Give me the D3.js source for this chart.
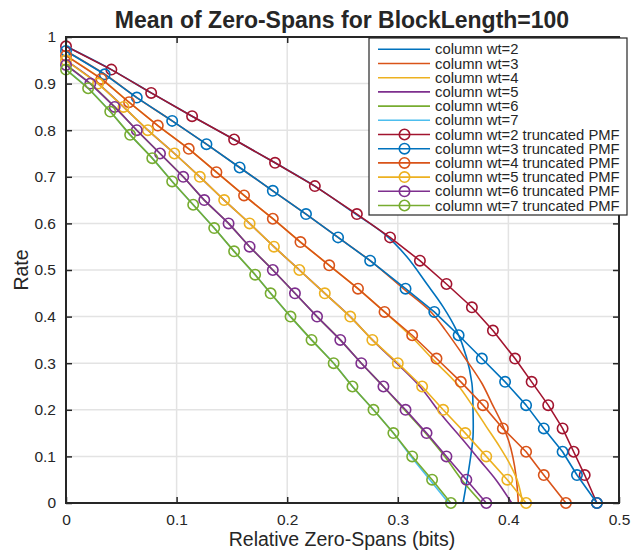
<!DOCTYPE html>
<html>
<head>
<meta charset="utf-8">
<script src="https://cdn.jsdelivr.net/npm/d3@7"></script>
<style>
  body { margin: 0; background: #fff; }
  svg { display: block; }
  text { font-family: "Liberation Sans", Arial, Helvetica, sans-serif; fill: #262626; }
</style>
</head>
<body>
<svg id="chart" width="631" height="551"></svg>
<script>
// Axis ticks
const xTicks = [0, 0.1, 0.2, 0.3, 0.4, 0.5];
const xTickLabels = ["0", "0.1", "0.2", "0.3", "0.4", "0.5"];
const yTicks = [0, 0.1, 0.2, 0.3, 0.4, 0.5, 0.6, 0.7, 0.8, 0.9, 1];
const yTickLabels = ["0", "0.1", "0.2", "0.3", "0.4", "0.5", "0.6", "0.7", "0.8", "0.9", "1"];

// Legend names
const seriesNames = [
  "column wt=2", "column wt=3", "column wt=4", "column wt=5", "column wt=6", "column wt=7",
  "column wt=2 truncated PMF", "column wt=3 truncated PMF", "column wt=4 truncated PMF",
  "column wt=5 truncated PMF", "column wt=6 truncated PMF", "column wt=7 truncated PMF"
];

// Exact column-weight curves (x = relative zero-spans, y = rate)
const wt2X = [0, 0.041, 0.077, 0.114, 0.152, 0.189, 0.225, 0.262, 0.287, 0.308, 0.326, 0.341, 0.353, 0.362, 0.367, 0.368, 0.368, 0.365, 0.359];
const wt2Y = [0.98, 0.93, 0.88, 0.83, 0.78, 0.73, 0.68, 0.62, 0.579, 0.529, 0.471, 0.421, 0.371, 0.314, 0.257, 0.200, 0.142, 0.085, 0];
const wt3X = [0, 0.035, 0.064, 0.096, 0.127, 0.157, 0.187, 0.217, 0.246, 0.275, 0.305, 0.330, 0.343, 0.362, 0.376, 0.385, 0.394, 0.400, 0.404, 0.407, 0.409];
const wt3Y = [0.97, 0.92, 0.87, 0.82, 0.77, 0.72, 0.67, 0.62, 0.57, 0.52, 0.46, 0.41, 0.371, 0.307, 0.257, 0.214, 0.171, 0.135, 0.099, 0.056, 0];
const wt4X = [0, 0.032, 0.057, 0.083, 0.111, 0.136, 0.161, 0.187, 0.212, 0.238, 0.264, 0.288, 0.311, 0.333, 0.353, 0.368, 0.380, 0.392, 0.401, 0.408, 0.413];
const wt4Y = [0.96, 0.91, 0.86, 0.81, 0.76, 0.71, 0.66, 0.61, 0.56, 0.51, 0.46, 0.41, 0.36, 0.305, 0.257, 0.207, 0.164, 0.121, 0.085, 0.049, 0];
const wt5X = [0, 0.029, 0.052, 0.074, 0.098, 0.121, 0.143, 0.166, 0.188, 0.211, 0.234, 0.257, 0.277, 0.299, 0.320, 0.341, 0.359, 0.374, 0.389, 0.403];
const wt5Y = [0.95, 0.90, 0.85, 0.80, 0.75, 0.70, 0.65, 0.60, 0.55, 0.50, 0.45, 0.40, 0.35, 0.30, 0.25, 0.185, 0.135, 0.092, 0.049, 0];
const wt6X = [0, 0.022, 0.044, 0.064, 0.085, 0.106, 0.125, 0.147, 0.166, 0.187, 0.207, 0.227, 0.248, 0.267, 0.287, 0.306, 0.325, 0.343, 0.359, 0.376];
const wt6Y = [0.94, 0.90, 0.85, 0.80, 0.75, 0.70, 0.65, 0.60, 0.55, 0.50, 0.45, 0.40, 0.35, 0.30, 0.25, 0.20, 0.15, 0.098, 0.046, 0];
const wt7X = [0, 0.020, 0.040, 0.058, 0.078, 0.096, 0.115, 0.134, 0.152, 0.171, 0.185, 0.203, 0.222, 0.242, 0.259, 0.278, 0.296, 0.312, 0.329, 0.346];
const wt7Y = [0.93, 0.89, 0.84, 0.79, 0.74, 0.69, 0.64, 0.59, 0.54, 0.49, 0.45, 0.40, 0.35, 0.30, 0.25, 0.20, 0.15, 0.10, 0.05, 0];

// Truncated-PMF approximations (plotted with circle markers)
const tr2X = [0, 0.041, 0.077, 0.114, 0.152, 0.189, 0.225, 0.263, 0.293, 0.320, 0.344, 0.367, 0.386, 0.406, 0.421, 0.436, 0.449, 0.459, 0.469, 0.480];
const tr2Y = [0.98, 0.93, 0.88, 0.83, 0.78, 0.73, 0.68, 0.62, 0.57, 0.52, 0.47, 0.42, 0.37, 0.31, 0.26, 0.21, 0.16, 0.11, 0.06, 0];
const tr3X = [0, 0.035, 0.064, 0.096, 0.127, 0.157, 0.187, 0.217, 0.246, 0.275, 0.307, 0.333, 0.355, 0.376, 0.397, 0.416, 0.432, 0.449, 0.462, 0.480];
const tr3Y = [0.97, 0.92, 0.87, 0.82, 0.77, 0.72, 0.67, 0.62, 0.57, 0.52, 0.46, 0.41, 0.36, 0.31, 0.26, 0.21, 0.16, 0.11, 0.06, 0];
const tr4X = [0, 0.032, 0.057, 0.083, 0.111, 0.136, 0.161, 0.187, 0.212, 0.238, 0.264, 0.288, 0.313, 0.335, 0.357, 0.377, 0.395, 0.416, 0.432, 0.452];
const tr4Y = [0.96, 0.91, 0.86, 0.81, 0.76, 0.71, 0.66, 0.61, 0.56, 0.51, 0.46, 0.41, 0.36, 0.31, 0.26, 0.21, 0.16, 0.11, 0.06, 0];
const tr5X = [0, 0.029, 0.052, 0.074, 0.098, 0.121, 0.143, 0.166, 0.188, 0.211, 0.234, 0.257, 0.277, 0.300, 0.322, 0.341, 0.361, 0.380, 0.399, 0.416];
const tr5Y = [0.95, 0.90, 0.85, 0.80, 0.75, 0.70, 0.65, 0.60, 0.55, 0.50, 0.45, 0.40, 0.35, 0.30, 0.25, 0.20, 0.15, 0.10, 0.05, 0];
const tr6X = [0, 0.022, 0.044, 0.064, 0.085, 0.106, 0.125, 0.147, 0.166, 0.187, 0.207, 0.227, 0.248, 0.267, 0.287, 0.307, 0.326, 0.344, 0.362, 0.380];
const tr6Y = [0.94, 0.90, 0.85, 0.80, 0.75, 0.70, 0.65, 0.60, 0.55, 0.50, 0.45, 0.40, 0.35, 0.30, 0.25, 0.20, 0.15, 0.10, 0.05, 0];
const tr7X = [0, 0.020, 0.040, 0.058, 0.078, 0.096, 0.115, 0.134, 0.152, 0.171, 0.185, 0.203, 0.222, 0.242, 0.259, 0.278, 0.296, 0.313, 0.331, 0.348];
const tr7Y = [0.93, 0.89, 0.84, 0.79, 0.74, 0.69, 0.64, 0.59, 0.54, 0.49, 0.45, 0.40, 0.35, 0.30, 0.25, 0.20, 0.15, 0.10, 0.05, 0];

// Line colour order
const colors = ["#0072BD", "#D95319", "#EDB120", "#7E2F8E", "#77AC30", "#4DBEEE", "#A2142F"];

const zip = (xs, ys) => xs.map((x, i) => ({ x, y: ys[i] }));
const series = [
  { pts: zip(wt2X, wt2Y), marker: false },
  { pts: zip(wt3X, wt3Y), marker: false },
  { pts: zip(wt4X, wt4Y), marker: false },
  { pts: zip(wt5X, wt5Y), marker: false },
  { pts: zip(wt6X, wt6Y), marker: false },
  { pts: zip(wt7X, wt7Y), marker: false },
  { pts: zip(tr2X, tr2Y), marker: true },
  { pts: zip(tr3X, tr3Y), marker: true },
  { pts: zip(tr4X, tr4Y), marker: true },
  { pts: zip(tr5X, tr5Y), marker: true },
  { pts: zip(tr6X, tr6Y), marker: true },
  { pts: zip(tr7X, tr7Y), marker: true }
].map((s, i) => ({ ...s, name: seriesNames[i], color: colors[i % colors.length] }));

const svg = d3.select("#chart");
const plot = { left: 66, top: 37, right: 619, bottom: 503 };

const x = d3.scaleLinear().domain([0, 0.5]).range([plot.left, plot.right]);
const y = d3.scaleLinear().domain([0, 1]).range([plot.bottom, plot.top]);

const axisColor = "#262626";

// Grid
const grid = svg.append("g");
grid.selectAll(".gx").data(xTicks).join("line")
  .attr("x1", d => x(d)).attr("x2", d => x(d))
  .attr("y1", plot.top).attr("y2", plot.bottom)
  .attr("stroke", "#e3e3e3").attr("stroke-width", 1.5);
grid.selectAll(".gy").data(yTicks).join("line")
  .attr("y1", d => y(d)).attr("y2", d => y(d))
  .attr("x1", plot.left).attr("x2", plot.right)
  .attr("stroke", "#e3e3e3").attr("stroke-width", 1.5);

// Curves
svg.append("defs").append("clipPath").attr("id", "clip")
  .append("rect").attr("x", plot.left - 8).attr("y", plot.top - 8)
  .attr("width", plot.right - plot.left + 16).attr("height", plot.bottom - plot.top + 16);

const layer = svg.append("g").attr("clip-path", "url(#clip)");
const smoothLine = d3.line().x(d => x(d.x)).y(d => y(d.y)).curve(d3.curveCatmullRom.alpha(0.5));
const straightLine = d3.line().x(d => x(d.x)).y(d => y(d.y));

series.forEach(s => {
  const g = layer.append("g");
  g.append("path")
    .attr("d", (s.marker ? straightLine : smoothLine)(s.pts))
    .attr("fill", "none").attr("stroke", s.color).attr("stroke-width", 1.6)
    .attr("stroke-linejoin", "round");
  if (s.marker) {
    g.selectAll("circle").data(s.pts).join("circle")
      .attr("cx", d => x(d.x)).attr("cy", d => y(d.y)).attr("r", 5.2)
      .attr("fill", "none").attr("stroke", s.color).attr("stroke-width", 1.6);
  }
});

// Axes (box with inward ticks on all sides)
const axes = svg.append("g");
const bottomAxis = d3.axisBottom(x).tickValues(xTicks).tickFormat((d, i) => xTickLabels[i]).tickSizeInner(-6).tickSizeOuter(0).tickPadding(11);
const leftAxis = d3.axisLeft(y).tickValues(yTicks).tickFormat((d, i) => yTickLabels[i]).tickSizeInner(-6).tickSizeOuter(0).tickPadding(10);
const topAxis = d3.axisTop(x).tickValues(xTicks).tickFormat("").tickSizeInner(-6).tickSizeOuter(0);
const rightAxis = d3.axisRight(y).tickValues(yTicks).tickFormat("").tickSizeInner(-6).tickSizeOuter(0);

function styleAxis(g) {
  g.select(".domain").remove();
  g.selectAll(".tick line").attr("stroke", axisColor).attr("stroke-width", 1.5);
  g.selectAll(".tick text").attr("fill", axisColor).style("font-size", "15.5px")
    .style("font-family", "'Liberation Sans', Arial, sans-serif");
}
axes.append("g").attr("transform", `translate(0,${plot.bottom})`).call(bottomAxis).call(styleAxis);
axes.append("g").attr("transform", `translate(${plot.left},0)`).call(leftAxis).call(styleAxis);
axes.append("g").attr("transform", `translate(0,${plot.top})`).call(topAxis).call(styleAxis);
axes.append("g").attr("transform", `translate(${plot.right},0)`).call(rightAxis).call(styleAxis);

axes.append("rect")
  .attr("x", plot.left).attr("y", plot.top)
  .attr("width", plot.right - plot.left).attr("height", plot.bottom - plot.top)
  .attr("fill", "none").attr("stroke", axisColor).attr("stroke-width", 2);

// Title and axis labels
svg.append("text").attr("x", 342).attr("y", 28).attr("text-anchor", "middle")
  .style("font-size", "23px").style("font-weight", "bold").attr("fill", "#000")
  .text("Mean of Zero-Spans for BlockLength=100");
svg.append("text").attr("x", 342).attr("y", 546).attr("text-anchor", "middle")
  .style("font-size", "19.5px").text("Relative Zero-Spans (bits)");
svg.append("text").attr("transform", "translate(28,270) rotate(-90)").attr("text-anchor", "middle")
  .style("font-size", "19.5px").text("Rate");

// Legend
const leg = svg.append("g");
const legBox = { x: 369, y: 38, w: 258, h: 177 };
leg.append("rect").attr("x", legBox.x).attr("y", legBox.y).attr("width", legBox.w).attr("height", legBox.h)
  .attr("fill", "#fff").attr("stroke", axisColor).attr("stroke-width", 1.2);
const rowY = i => 49.3 + i * 14.2;
series.forEach((s, i) => {
  const ry = rowY(i);
  leg.append("line").attr("x1", 378).attr("x2", 430).attr("y1", ry).attr("y2", ry)
    .attr("stroke", s.color).attr("stroke-width", 1.6);
  if (s.marker) {
    leg.append("circle").attr("cx", 404.5).attr("cy", ry).attr("r", 5.2)
      .attr("fill", "none").attr("stroke", s.color).attr("stroke-width", 1.6);
  }
  leg.append("text").attr("x", 435).attr("y", ry + 5).style("font-size", "14.8px").attr("fill", "#000")
    .text(s.name);
});
</script>
</body>
</html>
